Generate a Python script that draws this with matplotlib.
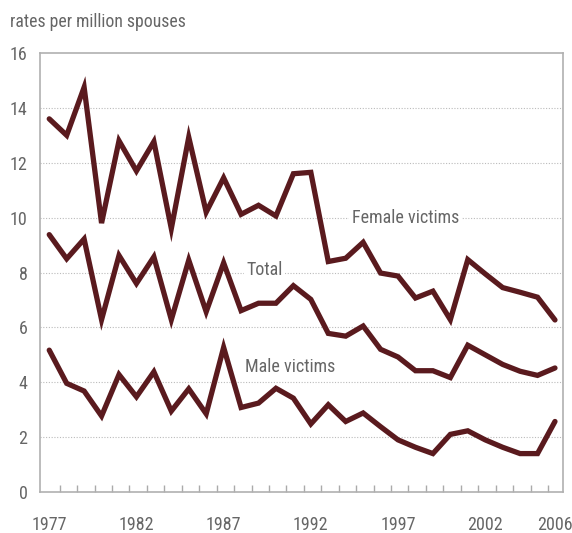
import matplotlib
matplotlib.use("Agg")
import matplotlib.pyplot as plt
from matplotlib import font_manager as fm

years = list(range(1977, 2007))
female = [13.6, 13.0, 14.75, 9.8, 12.8, 11.7, 12.77, 9.6, 12.93, 10.2, 11.45, 10.12, 10.45, 10.06, 11.6, 11.65,
          8.4, 8.52, 9.1, 7.98, 7.87, 7.07, 7.32, 6.28, 8.47, 7.95, 7.45, 7.28, 7.1, 6.27]
total = [9.38, 8.5, 9.22, 6.28, 8.62, 7.6, 8.57, 6.28, 8.45, 6.57, 8.35, 6.61, 6.88, 6.88, 7.52, 7.02,
         5.78, 5.68, 6.05, 5.2, 4.92, 4.42, 4.42, 4.17, 5.35, 5.0, 4.65, 4.4, 4.25, 4.52]
male = [5.17, 3.96, 3.68, 2.77, 4.28, 3.47, 4.38, 2.95, 3.76, 2.85, 5.27, 3.08, 3.24, 3.78, 3.42, 2.48,
        3.18, 2.57, 2.88, 2.38, 1.9, 1.63, 1.4, 2.1, 2.23, 1.9, 1.63, 1.4, 1.4, 2.57]
series_labels = ["Female victims", "Total", "Male victims"]
label_pos = [(1994.36, 9.97), (1988.3, 8.1), (1988.23, 4.55)]
xtick_labels = [1977, 1982, 1987, 1992, 1997, 2002, 2006]
yticks = [0, 2, 4, 6, 8, 10, 12, 14, 16]

names = {f.name for f in fm.fontManager.ttflist}
fam = None
stretch = "normal"
for cand in ["Roboto Condensed", "Liberation Sans Narrow", "DejaVu Sans Condensed", "Open Sans Condensed",
             "Noto Sans Condensed"]:
    if cand in names:
        fam = cand
        break
if fam is None:
    cond = [f for f in fm.fontManager.ttflist if f.stretch in ("condensed", "semi-condensed", "extra-condensed")
            or (isinstance(f.stretch, int) and f.stretch < 500)]
    if cond:
        fam = cond[0].name
        stretch = "condensed"
    else:
        fam = "Roboto" if "Roboto" in names else "DejaVu Sans"
plt.rcParams["font.family"] = [fam, "DejaVu Sans"]
plt.rcParams["font.stretch"] = stretch

txt = "#666666"
line_c = "#5a1a1e"
grid_c = "#bbbbbb"

fig = plt.figure(figsize=(5.72, 5.33), dpi=100)
ax = fig.add_axes([40/572, 1-492/533, (563-40)/572, (492-53)/533])

for s in (female, total, male):
    ax.plot(years, s, color=line_c, lw=3.8, solid_joinstyle="miter", solid_capstyle="round", zorder=3)

ax.set_xlim(1976.47, 2006.46)
ax.set_ylim(0, 16)
ax.set_yticks(yticks)
ax.set_yticklabels([str(v) for v in yticks])
ax.set_xticks(xtick_labels)
ax.set_xticklabels([str(v) for v in xtick_labels])
ax.set_xticks([y + 0.6 for y in years[:-1]], minor=True)
ax.tick_params(axis="x", which="major", length=0, pad=17, labelsize=13, labelcolor=txt)
ax.tick_params(axis="x", which="minor", direction="in", length=5, width=1, color="#aaaaaa")
ax.tick_params(axis="y", length=0, pad=9, labelsize=13, labelcolor=txt)

for v in yticks[1:-1]:
    ax.axhline(v, color=grid_c, lw=0.8, ls=(0, (1, 1.5)), zorder=1)

for sp in ax.spines.values():
    sp.set_color("#b0b0b0")
    sp.set_linewidth(1.2)

for lab, (x, y) in zip(series_labels, label_pos):
    ax.text(x, y, lab, ha="left", va="center", fontsize=13, color=txt, zorder=2,
            bbox=dict(facecolor="white", edgecolor="none", pad=2))

fig.text(10/572, 1-27/533, "rates per million spouses", fontsize=12.7, color=txt, ha="left", va="baseline")

fig.savefig("out.png", dpi=100)
